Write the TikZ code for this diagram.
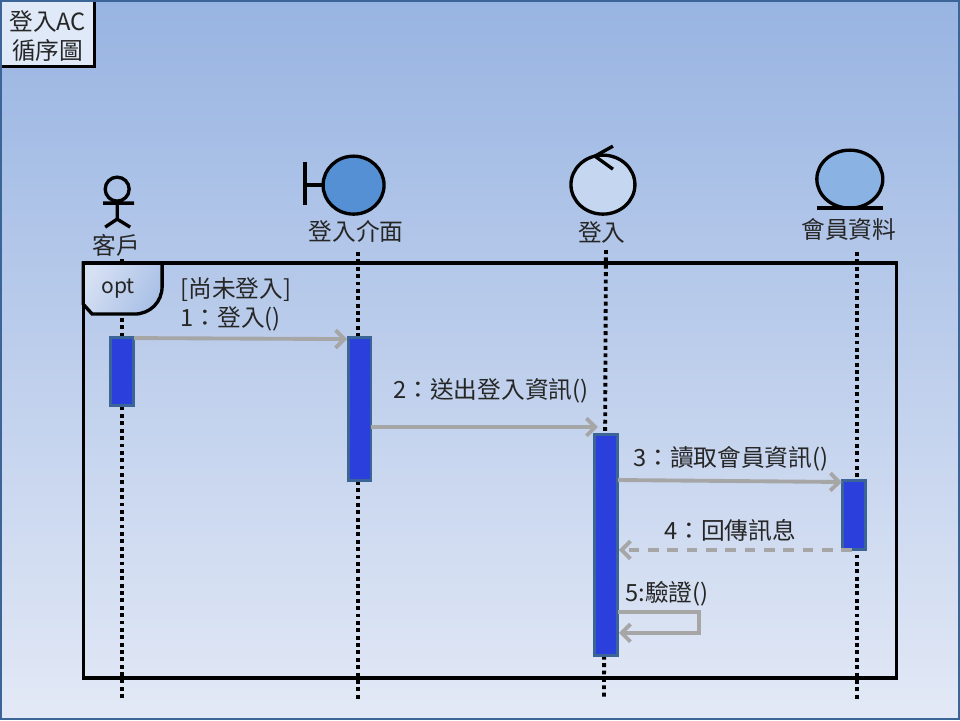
\documentclass[tikz,border=0pt]{standalone}
\usepackage{fontspec}
\setmainfont{Noto Sans CJK TC}
\usetikzlibrary{positioning, calc, arrows.meta}
\definecolor{skytop}{HTML}{98B4E2}
\definecolor{skybot}{HTML}{E3E9F6}
\definecolor{rimblue}{HTML}{3B6497}
\definecolor{barblue}{HTML}{2A3FDB}
\definecolor{msggrey}{HTML}{A6A6A6}
\definecolor{bndblue}{HTML}{5590D5}
\definecolor{ctlblue}{HTML}{C5D7F0}
\definecolor{entblue}{HTML}{8AB2E2}
\definecolor{tabpale}{HTML}{D6E0F3}
\definecolor{tabdeep}{HTML}{A9C0E6}
\definecolor{notepale}{HTML}{DFE9F7}
\tikzset{
    lbl/.style={inner sep=0pt, font=\fontsize{13.5}{15}\selectfont, text=black!85},
    msg/.style={anchor=west, inner sep=0pt, font=\fontsize{13.5}{15}\selectfont, text=black!85},
    lifeline/.style={line width=2.2pt, dash pattern=on 2.2pt off 2pt},
    glyph/.style={line width=1.9pt, black},
    call/.style={line width=2.2pt, msggrey, -{Straight Barb[length=5pt,width=10pt,line width=2.2pt]}},
    actbar/.style={draw=rimblue, line width=1.6pt, fill=barblue, inner sep=0pt, minimum width=13pt}
}
% bar: name, x, top y, bottom y
\newcommand{\tbar}[4]{
    \node[actbar, minimum height={(#4-#3)*0.5669pt}] (#1) at (#2,{(#3+#4)/2}) {};
}
\begin{document}
\begin{tikzpicture}[x=0.02cm,y=-0.02cm]
    \shade[top color=skytop, bottom color=skybot] (0,0) rectangle (960,720);
    \draw[rimblue, line width=1.4pt] (1,1) rectangle (959,719);
    % title
    \fill[notepale] (2,2) rectangle (94,66);
    \draw[line width=1.5pt] (94,2) -- (94,66) -- (2,66);
    \node[lbl] (titleA) at (47.5,21) {登入AC};
    \node[lbl] (titleB) at (47.5,50) {循序圖};
    % lifelines
    \coordinate (lifeAtop) at (122,259);
    \coordinate (lifeAbot) at (122,700);
    \coordinate (lifeBtop) at (358,252);
    \coordinate (lifeBbot) at (358,700);
    \coordinate (lifeCtop) at (606,250);
    \coordinate (lifeCbot) at (604,700);
    \coordinate (lifeDtop) at (857,252);
    \coordinate (lifeDbot) at (857,700);
    \draw[lifeline] (lifeAtop) -- (lifeAbot);
    \draw[lifeline] (lifeBtop) -- (lifeBbot);
    \draw[lifeline] (lifeCtop) -- (lifeCbot);
    \draw[lifeline] (lifeDtop) -- (lifeDbot);
    % frame and tab
    \draw[line width=1.9pt] (83,263) rectangle (897,678);
    \shade[left color=tabpale, right color=tabdeep, shading angle=60] (83,263) -- (162,263) -- (162,286) .. controls (162,302) and (150,314) .. (134,314) -- (92,314) -- (83,304) -- cycle;
    \draw[line width=1.9pt] (83,263) -- (83,304) -- (92,314) -- (134,314) .. controls (150,314) and (162,302) .. (162,286) -- (162,263) -- cycle;
    \node[lbl, font=\fontsize{12}{14}\selectfont] (opt) at (118,288) {opt};
    % actors
    \draw[glyph] (117,189) circle[radius=12];
    \draw[glyph] (117,201) -- (117,219) (103,203) -- (134,203) (105,227) -- (117,219) -- (130,227);
    \node[lbl] (custName) at (116,245) {客戶};
    \draw[glyph] (305,162) -- (305,205) (305,185) -- (323,185);
    \draw[glyph, fill=bndblue] (353.5,185) ellipse[x radius=30.5, y radius=29];
    \node[lbl] (uiName) at (356,231) {登入介面};
    \draw[glyph, fill=ctlblue] (603,184.5) ellipse[x radius=32, y radius=29.5];
    \draw[glyph] (613,146) -- (595,156) -- (613,169);
    \node[lbl] (ctrlName) at (602,232) {登入};
    \draw[glyph, fill=entblue] (850,179) ellipse[x radius=33, y radius=29];
    \draw[glyph] (817,208) -- (883,208);
    \node[lbl] (dataName) at (849,229) {會員資料};
    % activation bars
    \tbar{barA}{122}{337}{406}
    \tbar{barB}{359.5}{337}{481}
    \tbar{barC}{606}{434}{656}
    \tbar{barD}{854}{480}{550}
    % messages
    \coordinate (msgAend) at (347,339);
    \coordinate (msgAstart) at (134,338);
    \coordinate (msgBstart) at (371,427);
    \coordinate (msgBend) at (598,427);
    \coordinate (msgCstart) at (618,480);
    \coordinate (msgCend) at (842,482);
    \coordinate (msgDstart) at (852,550);
    \coordinate (msgDend) at (619,550);
    \coordinate (msgEstart) at (618,612);
    \coordinate (msgEfar) at (699,612);
    \coordinate (msgEnear) at (699,633);
    \coordinate (msgEend) at (619,633);
    \draw[call] (msgAstart) -- (msgAend);
    \draw[call] (msgBstart) -- (msgBend);
    \draw[call] (msgCstart) -- (msgCend);
    \draw[call, dash pattern=on 6pt off 5pt] (msgDstart) -- (msgDend);
    \draw[call] (msgEstart) -- (msgEfar) -- (msgEnear) -- (msgEend);
    \node[msg] (guard) at (180,289) {[尚未登入]};
    \node[msg] (labA) at (180,319) {1：登入()};
    \node[msg] (labB) at (393,391) {2：送出登入資訊()};
    \node[msg] (labC) at (633,459) {3：讀取會員資訊()};
    \node[msg] (labD) at (664,530) {4：回傳訊息};
    \node[msg] (labE) at (625,594) {5:驗證()};
\end{tikzpicture}
\end{document}
